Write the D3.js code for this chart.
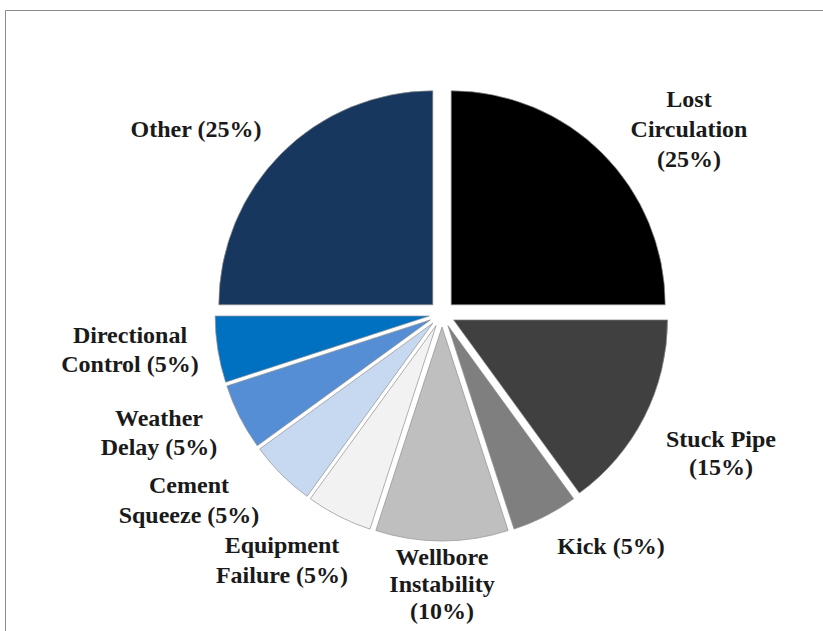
<!DOCTYPE html>
<html lang="en">
<head>
<meta charset="utf-8">
<style>
  html, body { margin:0; padding:0; background:#fff; overflow:hidden }
  svg { display:block }
  .lbl { font-family: "Liberation Serif", "Times New Roman", serif; font-weight: bold;
         font-size: 24px; fill: #1a1a1a; }
</style>
</head>
<body>
<svg width="823" height="631"></svg>
<script src="https://cdn.jsdelivr.net/npm/d3@7"></script>
<script>
// causes of non-productive time, clockwise from 12 o'clock
var causes = ["Lost Circulation", "Stuck Pipe", "Kick", "Wellbore Instability",
              "Equipment Failure", "Cement Squeeze", "Weather Delay",
              "Directional Control", "Other"];
var shares = [25, 15, 5, 10, 5, 5, 5, 5, 25];
var colours = ["#000000", "#404040", "#7f7f7f", "#bfbfbf", "#f2f2f2",
               "#c6d9f1", "#558ed5", "#0070c0", "#17375e"];
// label lines as they are broken in the picture
var labelLines = [
  ["Lost", "Circulation", "(25%)"],
  ["Stuck Pipe", "(15%)"],
  ["Kick (5%)"],
  ["Wellbore", "Instability", "(10%)"],
  ["Equipment", "Failure (5%)"],
  ["Cement", "Squeeze (5%)"],
  ["Weather", "Delay (5%)"],
  ["Directional", "Control (5%)"],
  ["Other (25%)"]
];

var svg = d3.select("svg");
var cx = 442, cy = 314, radius = 214, pull = 13;

// frame
svg.append("path")
    .attr("d", "M5.5,631 L5.5,10.5 L823,10.5")
    .attr("fill", "none")
    .attr("stroke", "#8c8c8c")
    .attr("stroke-width", 1);

var pie = d3.pie().sort(null).value(function (d) { return d; });
var arc = d3.arc().innerRadius(0).outerRadius(radius);
var arcs = pie(shares);

var g = svg.append("g").attr("transform", "translate(" + cx + "," + cy + ")");

g.selectAll("path.slice")
    .data(arcs)
    .enter()
    .append("path")
    .attr("class", "slice")
    .attr("d", arc)
    .attr("fill", function (d, i) { return colours[i]; })
    .attr("stroke", "#8f8f8f")
    .attr("stroke-width", 0.7)
    .attr("transform", function (d) {
        var a = (d.startAngle + d.endAngle) / 2;
        return "translate(" + (pull * Math.sin(a)) + "," + (-pull * Math.cos(a)) + ")";
    });

// label anchors: centre x, first baseline, line height
var labelPos = [
  [689, 107, 30], [721, 447, 28], [611, 554, 0], [442, 565, 27], [282, 553, 30],
  [189, 493, 30], [159, 426, 29], [130, 343, 29], [196, 137, 0]
];

var labels = svg.selectAll("text.lbl")
    .data(labelLines)
    .enter()
    .append("text")
    .attr("class", "lbl")
    .attr("text-anchor", "middle")
    .attr("x", function (d, i) { return labelPos[i][0]; })
    .attr("y", function (d, i) { return labelPos[i][1]; });

labels.each(function (lines, i) {
    var t = d3.select(this);
    lines.forEach(function (s, k) {
        t.append("tspan")
            .attr("x", labelPos[i][0])
            .attr("y", labelPos[i][1] + k * labelPos[i][2])
            .text(s);
    });
});
</script>
</body>
</html>
